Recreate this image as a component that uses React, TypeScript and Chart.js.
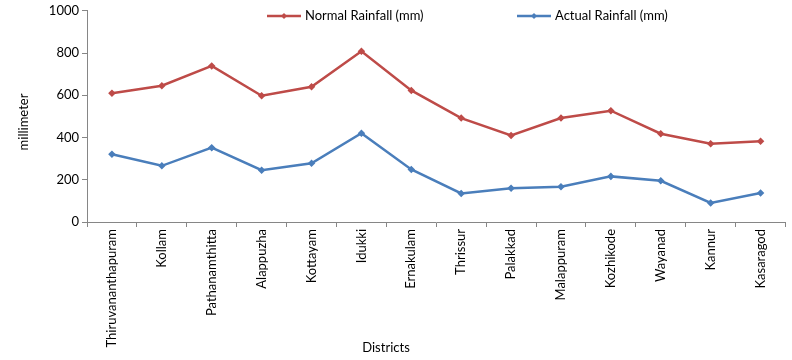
import React, { useEffect, useRef } from "react";
import { Chart, registerables } from "chart.js";

Chart.register(...registerables);

const districts = [
  "Thiruvananthapuram", "Kollam", "Pathanamthitta", "Alappuzha", "Kottayam", "Idukki",
  "Ernakulam", "Thrissur", "Palakkad", "Malappuram", "Kozhikode", "Wayanad", "Kannur", "Kasaragod",
];
const normalRainfall = [610, 645, 739, 598, 640, 808, 623, 492, 410, 492, 527, 418, 371, 382];
const actualRainfall = [321, 266, 352, 245, 278, 420, 249, 135, 160, 167, 216, 195, 90, 137];
const yTicks = [0, 200, 400, 600, 800, 1000];

const RED = "#BE4B48";
const BLUE = "#4A7EBB";
const AXIS = "#868686";
const FONT = "Lato, 'Open Sans', sans-serif";

const overlayPlugin = {
  id: "overlay",
  afterDraw(chart: any) {
    const ctx = chart.ctx;
    ctx.save();
    ctx.fillStyle = "#000";
    ctx.font = `13px ${FONT}`;
    const items = [
      { x: 267, color: RED, text: "Normal Rainfall (mm)" },
      { x: 517, color: BLUE, text: "Actual Rainfall (mm)" },
    ];
    const ly = 16;
    for (const it of items) {
      ctx.strokeStyle = it.color;
      ctx.lineWidth = 2.5;
      ctx.beginPath();
      ctx.moveTo(it.x, ly);
      ctx.lineTo(it.x + 34, ly);
      ctx.stroke();
      ctx.fillStyle = it.color;
      ctx.beginPath();
      ctx.moveTo(it.x + 17, ly - 3);
      ctx.lineTo(it.x + 20, ly);
      ctx.lineTo(it.x + 17, ly + 3);
      ctx.lineTo(it.x + 14, ly);
      ctx.closePath();
      ctx.fill();
      ctx.fillStyle = "#000";
      ctx.textAlign = "left";
      ctx.textBaseline = "middle";
      ctx.fillText(it.text, it.x + 38, ly);
    }
    ctx.textAlign = "center";
    ctx.textBaseline = "middle";
    ctx.fillText("Districts", 386, 348);
    ctx.translate(24, 122);
    ctx.rotate(-Math.PI / 2);
    ctx.fillText("millimeter", 0, 0);
    ctx.restore();
  },
};

export default function App() {
  const ref = useRef<HTMLCanvasElement | null>(null);
  useEffect(() => {
    if (!ref.current) return;
    const chart = new Chart(ref.current, {
      type: "line",
      data: {
        labels: districts,
        datasets: [
          {
            label: "Normal Rainfall (mm)",
            data: normalRainfall,
            borderColor: RED,
            backgroundColor: RED,
            borderWidth: 2.5,
            pointStyle: "rectRot",
            pointRadius: 2,
            tension: 0,
          },
          {
            label: "Actual Rainfall (mm)",
            data: actualRainfall,
            borderColor: BLUE,
            backgroundColor: BLUE,
            borderWidth: 2.5,
            pointStyle: "rectRot",
            pointRadius: 2,
            tension: 0,
          },
        ],
      },
      options: {
        animation: false,
        responsive: false,
        layout: { padding: { top: 10, right: 6, left: 0, bottom: 0 } },
        plugins: { legend: { display: false }, tooltip: { enabled: false } },
        scales: {
          x: {
            offset: true,
            grid: { offset: true, drawOnChartArea: false, drawTicks: true, tickLength: 5, color: AXIS },
            border: { color: AXIS, width: 1 },
            ticks: {
              minRotation: 90,
              maxRotation: 90,
              autoSkip: false,
              color: "#000",
              font: { family: FONT, size: 13 },
              padding: 2,
            },
            afterFit(scale: any) {
              scale.height = 138;
            },
          },
          y: {
            min: 0,
            max: 1000,
            afterBuildTicks(scale: any) {
              scale.ticks = yTicks.map((v) => ({ value: v }));
            },
            grid: { drawOnChartArea: false, drawTicks: true, tickLength: 5, color: AXIS },
            border: { color: AXIS, width: 1 },
            ticks: {
              color: "#000",
              font: { family: FONT, size: 13 },
              padding: 3,
              callback: (v: any) => String(v),
            },
            afterFit(scale: any) {
              scale.width = 87;
            },
          },
        },
      },
      plugins: [overlayPlugin],
    });
    return () => chart.destroy();
  }, []);
  return (
    <div style={{ position: "fixed", left: 0, top: 0, width: 792, height: 360, background: "#fff" }}>
      <canvas ref={ref} width={792} height={360} style={{ width: 792, height: 360 }} />
    </div>
  );
}
